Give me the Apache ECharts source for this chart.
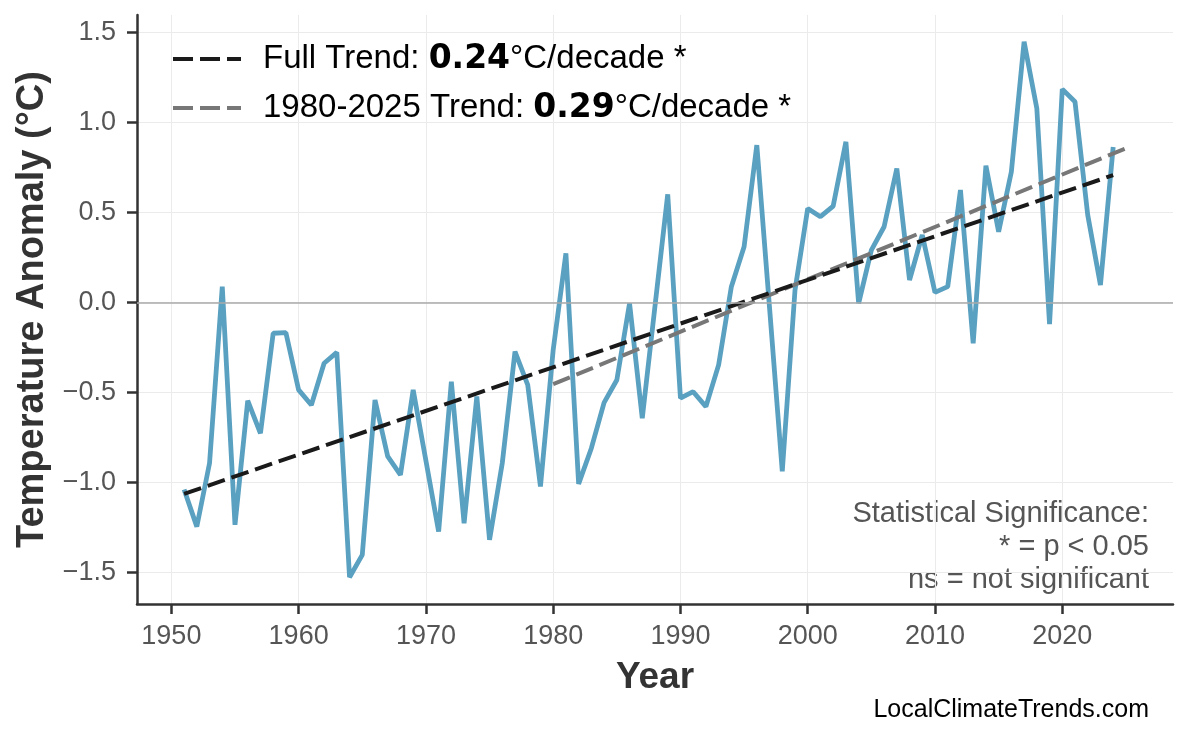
<!DOCTYPE html>
<html>
<head>
<meta charset="utf-8">
<script src="https://cdn.jsdelivr.net/npm/echarts@6/dist/echarts.min.js"></script>
<style>
  html, body { margin: 0; padding: 0; background: #fff; }
  #main { width: 1186px; height: 737px; }
</style>
</head>
<body>
<div id="main"></div>
<script>
// yearly anomaly values
var years = [1951, 1952, 1953, 1954, 1955, 1956, 1957, 1958, 1959, 1960,
  1961, 1962, 1963, 1964, 1965, 1966, 1967, 1968, 1969, 1970,
  1971, 1972, 1973, 1974, 1975, 1976, 1977, 1978, 1979, 1980,
  1981, 1982, 1983, 1984, 1985, 1986, 1987, 1988, 1989, 1990,
  1991, 1992, 1993, 1994, 1995, 1996, 1997, 1998, 1999, 2000,
  2001, 2002, 2003, 2004, 2005, 2006, 2007, 2008, 2009, 2010,
  2011, 2012, 2013, 2014, 2015, 2016, 2017, 2018, 2019, 2020,
  2021, 2022, 2023, 2024];
var anomalies = [-1.04, -1.247, -0.894, 0.087, -1.237, -0.547, -0.728, -0.172, -0.169, -0.487,
  -0.571, -0.339, -0.278, -1.528, -1.404, -0.543, -0.857, -0.959, -0.487, -0.88,
  -1.274, -0.441, -1.228, -0.524, -1.32, -0.894, -0.274, -0.459, -1.024, -0.265,
  0.272, -1.009, -0.811, -0.558, -0.432, -0.006, -0.645, -0.02, 0.60, -0.533,
  -0.497, -0.58, -0.348, 0.087, 0.309, 0.874, -0.03, -0.94, 0.068, 0.522,
  0.476, 0.535, 0.892, -0.006, 0.29, 0.42, 0.744, 0.124, 0.374, 0.055,
  0.087, 0.624, -0.228, 0.759, 0.392, 0.726, 1.448, 1.078, -0.121, 1.185,
  1.115, 0.485, 0.096, 0.863];

// trend line end points [year, value]
var fullTrend = [[1951, -1.065], [2024, 0.707]];
var recentTrend = [[1980, -0.455], [2025, 0.856]];

var xTicks = [1950, 1960, 1970, 1980, 1990, 2000, 2010, 2020];
var yTicks = [-1.5, -1.0, -0.5, 0.0, 0.5, 1.0, 1.5];

var legendText = {
  'Full Trend': '{n|Full Trend: }{b|0.24}{n|°C/decade *}',
  '1980-2025 Trend': '{n|1980-2025 Trend: }{b|0.29}{n|°C/decade *}'
};

var font = 'Liberation Sans, Arial, sans-serif';
var chart = echarts.init(document.getElementById('main'));

chart.setOption({
  animation: false,
  backgroundColor: '#fff',
  grid: { left: 137, right: 13, top: 15, bottom: 133 },
  legend: {
    data: ['Full Trend', '1980-2025 Trend'],
    orient: 'vertical',
    left: 166,
    top: 36,
    itemWidth: 68,
    itemHeight: 20,
    itemGap: 13,
    itemStyle: { opacity: 0 },
    lineStyle: { width: 4, type: [20, 7] },
    formatter: function (name) { return legendText[name]; },
    textStyle: {
      padding: [0, 0, 0, 17],
      lineHeight: 36,
      rich: {
        n: { fontFamily: font, fontSize: 33, color: '#000', lineHeight: 36 },
        b: { fontFamily: 'DejaVu Sans', fontSize: 33, fontWeight: 'bold', color: '#000', lineHeight: 36 }
      }
    }
  },
  xAxis: {
    type: 'value',
    min: 1947.3,
    max: 2028.7,
    name: 'Year',
    nameLocation: 'middle',
    nameGap: 55,
    nameTextStyle: { fontFamily: font, fontSize: 37, fontWeight: 'bold', color: '#333' },
    axisLine: { onZero: false, lineStyle: { color: '#333', width: 2.5 } },
    axisTick: { customValues: xTicks, length: 10, lineStyle: { color: '#333', width: 2.5 } },
    axisLabel: {
      customValues: xTicks, margin: 19,
      fontFamily: font, fontSize: 27, color: '#555',
      formatter: function (v) { return String(v); }
    },
    splitLine: { show: true, customValues: xTicks, lineStyle: { color: '#ebebeb', width: 1 } }
  },
  yAxis: {
    type: 'value',
    min: -1.677,
    max: 1.597,
    name: 'Temperature Anomaly (°C)',
    nameLocation: 'middle',
    nameGap: 83,
    nameTextStyle: { fontFamily: font, fontSize: 38, fontWeight: 'bold', color: '#333' },
    axisLine: { show: true, onZero: false, lineStyle: { color: '#333', width: 2.5 } },
    axisTick: { show: true, customValues: yTicks, length: 10, lineStyle: { color: '#333', width: 2.5 } },
    axisLabel: {
      customValues: yTicks, margin: 21,
      fontFamily: font, fontSize: 27, color: '#555',
      formatter: function (v) { return v.toFixed(1).replace('-', '\u2212'); }
    },
    splitLine: { show: true, customValues: yTicks, lineStyle: { color: '#ebebeb', width: 1 } }
  },
  series: [
    {
      name: 'Anomaly',
      type: 'line',
      data: years.map(function (y, i) { return [y, anomalies[i]]; }),
      symbol: 'none',
      lineStyle: { color: '#5aa0c0', width: 4.8 },
      z: 2,
      markLine: {
        silent: true,
        symbol: 'none',
        label: { show: false },
        lineStyle: { color: '#aaa', width: 1.5, type: 'solid' },
        data: [{ yAxis: 0 }]
      }
    },
    {
      name: 'Full Trend',
      type: 'line',
      data: fullTrend,
      symbol: 'none',
      itemStyle: { color: '#1a1a1a' },
      lineStyle: { color: '#1a1a1a', width: 4, type: [18, 7] },
      z: 4
    },
    {
      name: '1980-2025 Trend',
      type: 'line',
      data: recentTrend,
      symbol: 'none',
      itemStyle: { color: '#777' },
      lineStyle: { color: '#777', width: 4, type: [18, 7] },
      z: 3
    }
  ],
  graphic: [
    {
      type: 'text',
      right: 37,
      top: 497,
      style: {
        text: 'Statistical Significance:\n* = p < 0.05\nns = not significant',
        textAlign: 'right',
        font: '29px ' + font,
        lineHeight: 33,
        fill: '#555'
      }
    },
    {
      type: 'text',
      right: 37,
      top: 698,
      style: {
        text: 'LocalClimateTrends.com',
        font: '25px ' + font,
        fill: '#000'
      }
    }
  ]
});
</script>
</body>
</html>
